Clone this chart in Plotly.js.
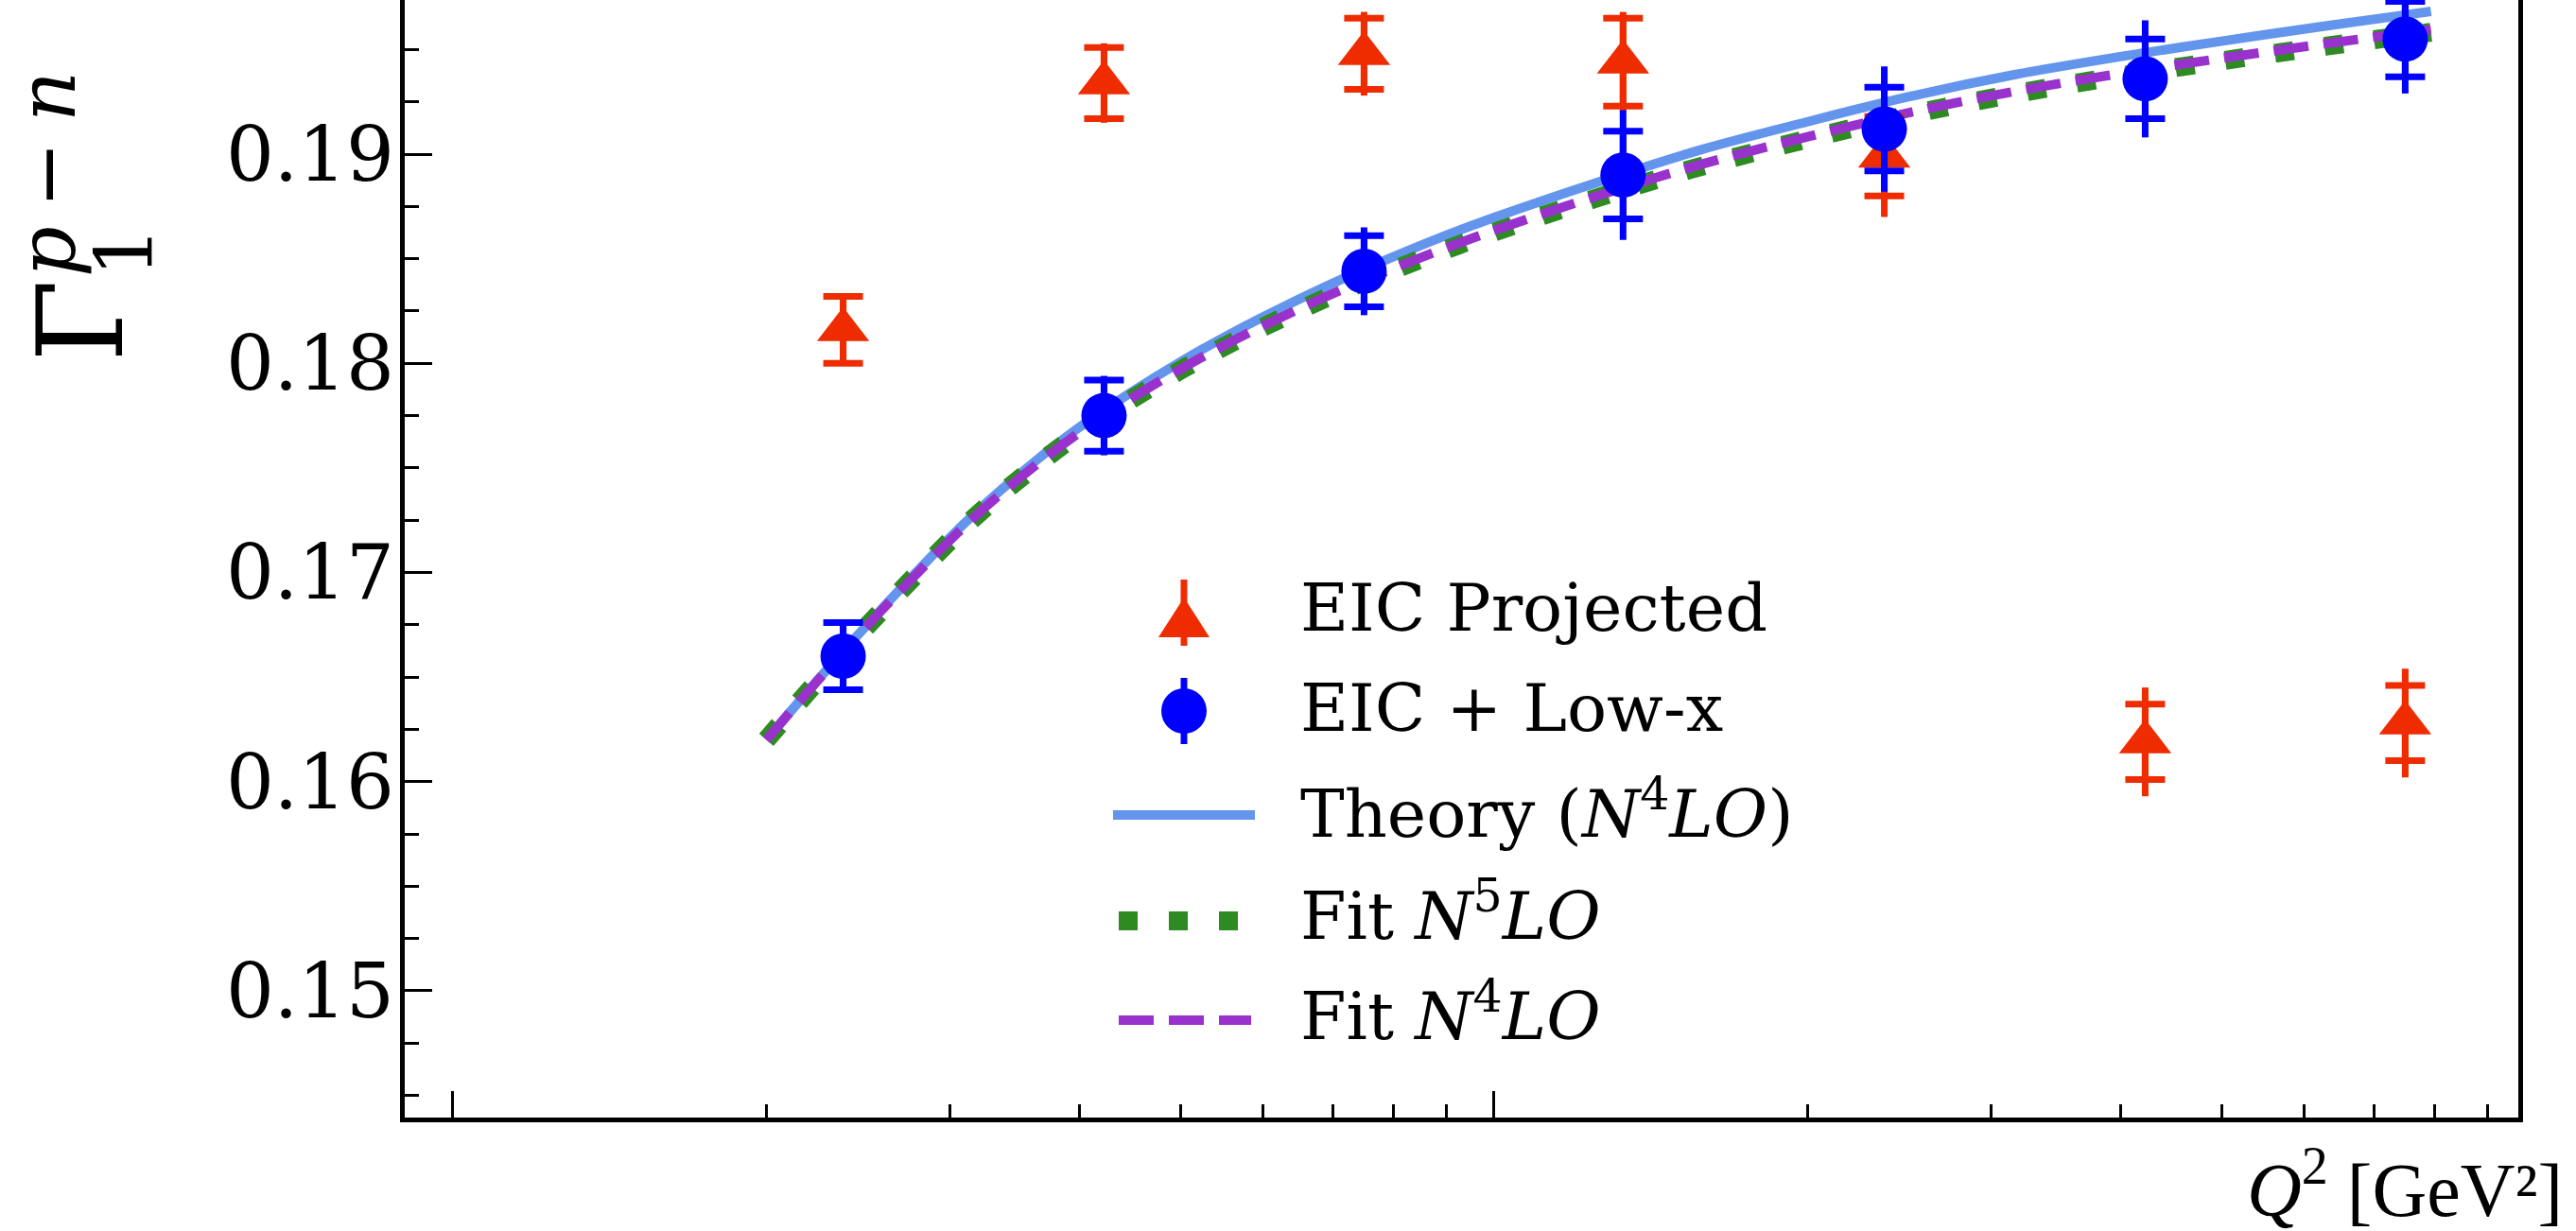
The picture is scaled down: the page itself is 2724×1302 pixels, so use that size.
<!DOCTYPE html>
<html>
<head>
<meta charset="utf-8">
<script src="https://cdn.plot.ly/plotly-3.0.1.min.js"></script>
<style>
html,body{margin:0;padding:0;background:#ffffff;}
#chart{width:2724px;height:1302px;}
</style>
</head>
<body>
<div id="chart"></div>
<script>
// ---------------- data ----------------
const q2Points = [2.37, 4.22, 7.50, 13.3, 23.7, 42.2, 75.0];

const eicProjY    = [0.1816, 0.1934, 0.1948, 0.1944, 0.1899, 0.1619, 0.1628];
const eicProjStat = [0.0016, 0.0017, 0.0017, 0.0021, 0.0019, 0.0018, 0.0018];
const eicProjTot  = [0.0017, 0.0019, 0.0020, 0.0024, 0.0029, 0.0026, 0.0026];

const lowXY    = [0.1660, 0.1775, 0.1844, 0.1890, 0.1912, 0.1936, 0.1955];
const lowXStat = [0.0016, 0.0017, 0.0017, 0.0021, 0.0020, 0.0019, 0.0018];
const lowXTot  = [0.0017, 0.0019, 0.0021, 0.0031, 0.0030, 0.0028, 0.0026];

const curveQ2    = [2.0, 2.24, 2.51, 2.82, 3.16, 3.55, 3.98, 4.47, 5.01, 5.62, 6.31, 7.08, 7.94, 8.91, 10.0, 12.6, 15.8, 20.0, 25.1, 31.6, 39.8, 50.1, 63.1, 79.4];
const theoryN4LO = [0.1620, 0.16485, 0.16760, 0.17028, 0.17275, 0.17495, 0.17688, 0.17858, 0.18010, 0.18149, 0.18276, 0.18394, 0.18502, 0.18604, 0.18697, 0.18867, 0.19021, 0.19155, 0.19276, 0.19380, 0.19465, 0.19541, 0.19614, 0.19683];
const fitN5LO    = [0.1620, 0.16482, 0.16754, 0.17016, 0.17258, 0.17472, 0.17659, 0.17823, 0.17970, 0.18103, 0.18225, 0.18337, 0.18440, 0.18536, 0.18627, 0.18793, 0.18941, 0.19072, 0.19189, 0.19288, 0.19372, 0.19447, 0.19517, 0.19583];
const fitN4LO    = [0.1620, 0.16483, 0.16755, 0.17018, 0.17260, 0.17475, 0.17663, 0.17828, 0.17975, 0.18109, 0.18231, 0.18344, 0.18447, 0.18544, 0.18635, 0.18802, 0.18951, 0.19083, 0.19200, 0.19300, 0.19384, 0.19459, 0.19529, 0.19595];

const yTickVals = [0.15, 0.16, 0.17, 0.18, 0.19];
const xMajorTicks = [1, 10];
const xMinorTicks = [2, 3, 4, 5, 6, 7, 8, 9, 20, 30, 40, 50, 60, 70, 80, 90];

const legendLabels = [
  "EIC Projected",
  "EIC + Low-x",
  "Theory (<i>N</i><sup>4</sup><i>LO</i>)",
  "Fit <i>N</i><sup>5</sup><i>LO</i>",
  "Fit <i>N</i><sup>4</sup><i>LO</i>"
];

// ---------------- styling ----------------
const RED = '#EE2C00', BLUE = '#0000FF', THEORY = '#6495ED', GREEN = '#2E8B22', PURPLE = '#9932CC';
const FONT = 'DejaVu Serif, serif';
const TFONT = 'Liberation Serif, Times New Roman, serif';
const W = 2724, H = 1302, ML = 428, MR = 61, MT = 0, MB = 120;
const PW = W - ML - MR, PH = H - MT - MB;
const px = X => (X - ML) / PW;          // pixel -> paper x
const py = Y => (H - MB - Y) / PH;      // pixel -> paper y

const traces = [
  {x: curveQ2, y: theoryN4LO, mode: 'lines', name: 'Theory (N4LO)', showlegend: false,
   line: {color: THEORY, width: 10, shape: 'spline'}},
  {x: curveQ2, y: fitN5LO, mode: 'lines', name: 'Fit N5LO', showlegend: false,
   line: {color: GREEN, width: 20, dash: '20px,33px', shape: 'spline'}},
  {x: curveQ2, y: fitN4LO, mode: 'lines', name: 'Fit N4LO', showlegend: false,
   line: {color: PURPLE, width: 10, dash: '37px,16px', shape: 'spline'}},
  {x: q2Points, y: eicProjY, mode: 'markers', name: 'EIC Projected (total)', showlegend: false,
   marker: {size: 2, opacity: 0, color: RED},
   error_y: {type: 'data', array: eicProjTot, visible: true, color: RED, thickness: 7, width: 0}},
  {x: q2Points, y: eicProjY, mode: 'markers', name: 'EIC Projected', showlegend: false,
   marker: {symbol: 'triangle-up', size: 48, color: RED},
   error_y: {type: 'data', array: eicProjStat, visible: true, color: RED, thickness: 7, width: 21}},
  {x: q2Points, y: lowXY, mode: 'markers', name: 'EIC + Low-x (total)', showlegend: false,
   marker: {size: 2, opacity: 0, color: BLUE},
   error_y: {type: 'data', array: lowXTot, visible: true, color: BLUE, thickness: 7, width: 0}},
  {x: q2Points, y: lowXY, mode: 'markers', name: 'EIC + Low-x', showlegend: false,
   marker: {symbol: 'circle', size: 48, color: BLUE},
   error_y: {type: 'data', array: lowXStat, visible: true, color: BLUE, thickness: 7, width: 21}}
];

// ---------------- hand-drawn legend (matplotlib style) ----------------
const hxc = 1252, textX = 1373;
const legendTextY = [643, 749, 856, 964, 1070];
const shapes = [
  {type: 'line', xref: 'paper', yref: 'paper', x0: px(hxc), x1: px(hxc), y0: py(613), y1: py(683),
   line: {color: RED, width: 7}},
  {type: 'path', xref: 'paper', yref: 'paper',
   path: `M ${px(hxc)} ${py(632)} L ${px(hxc - 27)} ${py(674)} L ${px(hxc + 27)} ${py(674)} Z`,
   fillcolor: RED, line: {color: RED, width: 0}},
  {type: 'line', xref: 'paper', yref: 'paper', x0: px(hxc), x1: px(hxc), y0: py(717), y1: py(787),
   line: {color: BLUE, width: 7}},
  {type: 'circle', xref: 'paper', yref: 'paper', x0: px(hxc - 24), x1: px(hxc + 24), y0: py(776), y1: py(728),
   fillcolor: BLUE, line: {color: BLUE, width: 0}},
  {type: 'line', xref: 'paper', yref: 'paper', x0: px(1177), x1: px(1327), y0: py(862), y1: py(862),
   line: {color: THEORY, width: 10}},
  {type: 'line', xref: 'paper', yref: 'paper', x0: px(1183), x1: px(1325), y0: py(974), y1: py(974),
   line: {color: GREEN, width: 20, dash: '20px,33px'}},
  {type: 'line', xref: 'paper', yref: 'paper', x0: px(1183), x1: px(1323), y0: py(1079), y1: py(1079),
   line: {color: PURPLE, width: 10, dash: '37px,16px'}}
];

const annotations = legendLabels.map((t, i) => ({
  text: t, xref: 'paper', yref: 'paper', x: px(textX), y: py(legendTextY[i]),
  xanchor: 'left', yanchor: 'middle', showarrow: false,
  font: {family: FONT, size: 70, color: '#000'}
}));

// y-axis title: Γ with subscript 1 and superscript p − n stacked (mathtext style)
const ylab = (text, X, Y, size, style) => ({
  text: text, xref: 'paper', yref: 'paper', x: px(X), y: py(Y), xanchor: 'center', yanchor: 'middle',
  textangle: -90, showarrow: false, font: {family: FONT, size: size, color: '#000', style: style || 'normal'}
});
annotations.push(
  ylab('Γ', 85, 340, 126),
  ylab('1', 132, 267, 84),
  ylab('p', 50, 266, 84, 'italic'),
  ylab('−', 50, 185, 84),
  ylab('n', 50, 102, 84, 'italic'),
  // x-axis title
  {text: '<i>Q</i><sup>2</sup> [GeV²]', xref: 'paper', yref: 'paper', x: px(2712), y: py(1252),
   xanchor: 'right', yanchor: 'middle', showarrow: false, font: {family: TFONT, size: 80, color: '#000'}}
);

const layout = {
  width: W, height: H,
  margin: {l: ML, r: MR, t: MT, b: MB, pad: 0},
  paper_bgcolor: '#ffffff', plot_bgcolor: '#ffffff',
  font: {family: FONT, size: 80, color: '#000'},
  showlegend: false,
  xaxis: {
    type: 'log', range: [-0.0463, 1.9837],
    showgrid: false, zeroline: false,
    showline: true, linecolor: '#000', linewidth: 5, mirror: false,
    tickmode: 'array', tickvals: xMajorTicks, showticklabels: false,
    ticks: 'inside', ticklen: 28, tickwidth: 3, tickcolor: '#000',
    minor: {tickmode: 'array', tickvals: xMinorTicks, ticks: 'inside', ticklen: 14, tickwidth: 3, tickcolor: '#000', showgrid: false}
  },
  yaxis: {
    range: [0.14394, 0.19737],
    showgrid: false, zeroline: false,
    showline: true, linecolor: '#000', linewidth: 5, mirror: true,
    tickmode: 'array', tickvals: yTickVals, tickformat: '.2f',
    ticks: 'inside', ticklen: 29, tickwidth: 3, tickcolor: '#000',
    ticklabelstandoff: -10,
    tickfont: {family: FONT, size: 80, color: '#000'},
    minor: {dtick: 0.0025, tick0: 0, ticks: 'inside', ticklen: 15, tickwidth: 3, tickcolor: '#000', showgrid: false}
  },
  shapes: shapes,
  annotations: annotations
};

Plotly.newPlot('chart', traces, layout, {staticPlot: true, displayModeBar: false});
</script>
</body>
</html>
